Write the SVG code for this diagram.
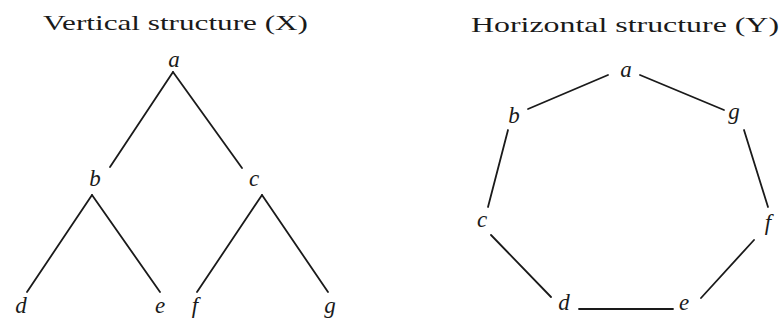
<svg xmlns="http://www.w3.org/2000/svg" width="782" height="321" viewBox="0 0 782 321">
<style>
.t{font-family:"Liberation Serif","Times New Roman",serif;font-size:22px;fill:#1a1a1a}
.n{font-family:"Liberation Serif","Times New Roman",serif;font-style:italic;font-size:23px;fill:#1a1a1a;text-anchor:middle}
.e{stroke:#1a1a1a;stroke-width:1.8;fill:none;stroke-linecap:round}
</style>
<rect width="782" height="321" fill="#fff"/>
<text class="t" x="43" y="30" textLength="265" lengthAdjust="spacingAndGlyphs">Vertical structure (X)</text>
<text class="t" x="471" y="32" textLength="308" lengthAdjust="spacingAndGlyphs">Horizontal structure (Y)</text>
<g id="connectors">
<line class="e" x1="173" y1="72" x2="110" y2="167"/>
<line class="e" x1="173" y1="72" x2="242" y2="168"/>
<line class="e" x1="92" y1="195" x2="27" y2="292"/>
<line class="e" x1="92" y1="195" x2="160" y2="292"/>
<line class="e" x1="262" y1="195" x2="197" y2="292"/>
<line class="e" x1="262" y1="195" x2="328" y2="292"/>
<line class="e" x1="528" y1="109" x2="608" y2="75"/>
<line class="e" x1="640" y1="75" x2="724" y2="110"/>
<line class="e" x1="508" y1="130" x2="488" y2="207"/>
<line class="e" x1="744" y1="130" x2="768" y2="207"/>
<line class="e" x1="491" y1="235" x2="551" y2="297"/>
<line class="e" x1="579" y1="309" x2="673" y2="309"/>
<line class="e" x1="701" y1="298" x2="754" y2="240"/>
</g>
<g id="X-a"><text class="n" x="174" y="67">a</text></g>
<g id="X-b"><text class="n" x="95" y="186">b</text></g>
<g id="X-c"><text class="n" x="254" y="186">c</text></g>
<g id="X-d"><text class="n" x="21" y="313">d</text></g>
<g id="X-e"><text class="n" x="160" y="313">e</text></g>
<g id="X-f"><text class="n" x="195" y="313">f</text></g>
<g id="X-g"><text class="n" x="330" y="313">g</text></g>
<g id="Y-a"><text class="n" x="626" y="77">a</text></g>
<g id="Y-b"><text class="n" x="514" y="123">b</text></g>
<g id="Y-g"><text class="n" x="734" y="119">g</text></g>
<g id="Y-c"><text class="n" x="482" y="227">c</text></g>
<g id="Y-f"><text class="n" x="768" y="230">f</text></g>
<g id="Y-d"><text class="n" x="564" y="310">d</text></g>
<g id="Y-e"><text class="n" x="684" y="310">e</text></g>
</svg>
